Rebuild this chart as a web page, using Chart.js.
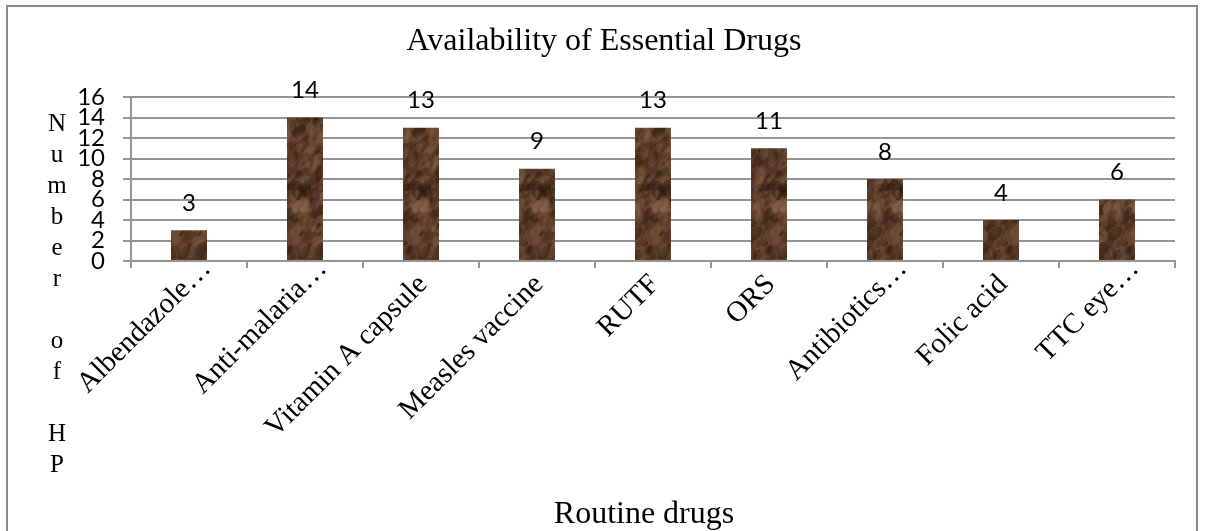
<!DOCTYPE html>
<html>
<head>
<meta charset="utf-8">
<title>Availability of Essential Drugs</title>
<script src="https://cdn.jsdelivr.net/npm/chart.js@4.4.1/dist/chart.umd.min.js"></script>
<style>
  html, body { margin: 0; padding: 0; background: #ffffff; }
  #wrap { position: relative; width: 1207px; height: 531px; }
  canvas { display: block; }
</style>
</head>
<body>
<div id="wrap"><canvas id="chart" width="1207" height="531"></canvas></div>
<script>
// Routine drugs and the number of health posts stocking each one
const drugs = [
  'Albendazole\u2026', 'Anti-malaria\u2026', 'Vitamin A capsule', 'Measles vaccine',
  'RUTF', 'ORS', 'Antibiotics\u2026', 'Folic acid', 'TTC eye\u2026'
];
const healthPosts = [3, 14, 13, 9, 13, 11, 8, 4, 6];
const yTicks = [0, 2, 4, 6, 8, 10, 12, 14, 16];

const chartTitle = 'Availability of Essential Drugs';
const xTitle = 'Routine drugs';
const yTitle = 'Number of HP';

const GRID = '#959595';
const SERIF = '"Liberation Serif", "Times New Roman", serif';
const SANS = 'Lato, "Open Sans", sans-serif';

// Marbled brown fill for the bars; blotches wrap around the tile so it repeats without seams
function marbleFill(ctx) {
  const W = 60, H = 220;
  const c = document.createElement('canvas');
  c.width = W; c.height = H;
  const g = c.getContext('2d');
  g.fillStyle = '#573827';
  g.fillRect(0, 0, W, H);
  let s = 12345;
  const next = () => { s = (s * 16807) % 2147483647; return s / 2147483647; };
  const tones = ['rgba(150,112,82,0.28)', 'rgba(38,20,10,0.38)', 'rgba(122,86,60,0.32)', 'rgba(70,44,28,0.4)'];
  for (let i = 0; i < 520; i++) {
    const x = next() * W, y = next() * H;
    const r = 1.5 + next() * 5.5, a = next() * Math.PI;
    g.fillStyle = tones[Math.floor(next() * tones.length)];
    for (const dx of [-W, 0, W]) {
      for (const dy of [-H, 0, H]) {
        g.beginPath();
        g.ellipse(x + dx, y + dy, r * 0.7, r * 1.3, a * 0.3, 0, Math.PI * 2);
        g.fill();
      }
    }
  }
  return ctx.createPattern(c, 'repeat');
}

// Frame around the figure (open at the bottom edge) and the chart titles
const framePlugin = {
  id: 'frame',
  beforeDraw(chart) {
    const ctx = chart.ctx;
    ctx.save();
    ctx.fillStyle = '#ffffff';
    ctx.fillRect(0, 0, chart.width, chart.height);
    ctx.strokeStyle = '#8a8a8a';
    ctx.lineWidth = 2;
    ctx.beginPath();
    ctx.moveTo(7, chart.height);
    ctx.lineTo(7, 6);
    ctx.lineTo(1197, 6);
    ctx.lineTo(1197, chart.height);
    ctx.stroke();
    ctx.restore();
  },
  afterDraw(chart) {
    const ctx = chart.ctx;
    ctx.save();
    ctx.fillStyle = '#000000';
    ctx.textAlign = 'center';
    ctx.textBaseline = 'middle';
    ctx.font = '32px ' + SERIF;
    ctx.fillText(chartTitle, 604, 42);
    ctx.fillText(xTitle, 644, 515);
    ctx.restore();
  }
};

// Category names, slanted at 45 degrees and anchored at each category tick;
// shortened names (ending in an ellipsis) sit a little further along the slant
const categoryLabelPlugin = {
  id: 'categoryLabels',
  afterDraw(chart) {
    const scale = chart.scales.x;
    const ctx = chart.ctx;
    ctx.save();
    ctx.font = '29px ' + SERIF;
    ctx.fillStyle = '#000000';
    ctx.textAlign = 'right';
    ctx.textBaseline = 'middle';
    drugs.forEach((name, i) => {
      const x = scale.getPixelForTick(i) + 2;
      const y = scale.top + 19;
      const along = name.endsWith('\u2026') ? 22 : 0;
      ctx.save();
      ctx.translate(x, y);
      ctx.rotate(-Math.PI / 4);
      ctx.fillText(name, along, 0);
      ctx.restore();
    });
    ctx.restore();
  }
};

// Y-axis title written as a column of upright letters
const stackedTitlePlugin = {
  id: 'stackedTitle',
  afterDraw(chart) {
    const ctx = chart.ctx;
    ctx.save();
    ctx.font = '25px ' + SERIF;
    ctx.fillStyle = '#000000';
    ctx.textAlign = 'center';
    ctx.textBaseline = 'middle';
    Array.from(yTitle).forEach((ch, i) => {
      if (ch.trim()) ctx.fillText(ch, 57, 124 + i * 31);
    });
    ctx.restore();
  }
};

// Value labels above each bar
const valueLabelPlugin = {
  id: 'valueLabels',
  afterDatasetsDraw(chart) {
    const ctx = chart.ctx;
    const meta = chart.getDatasetMeta(0);
    ctx.save();
    ctx.font = '24px ' + SANS;
    ctx.fillStyle = '#000000';
    ctx.textAlign = 'center';
    ctx.textBaseline = 'middle';
    meta.data.forEach((bar, i) => {
      ctx.fillText(String(healthPosts[i]), bar.x, bar.y - 27);
    });
    ctx.restore();
  }
};

const ctx = document.getElementById('chart').getContext('2d');
new Chart(ctx, {
  type: 'bar',
  data: {
    labels: drugs,
    datasets: [{
      data: healthPosts,
      backgroundColor: marbleFill(ctx),
      borderWidth: 0,
      categoryPercentage: 1,
      barPercentage: 0.31
    }]
  },
  options: {
    responsive: false,
    animation: false,
    layout: { padding: { left: 0, right: 32, top: 97, bottom: 0 } },
    plugins: {
      legend: { display: false },
      tooltip: { enabled: false },
      title: { display: false }
    },
    scales: {
      x: {
        afterFit(scale) { scale.height = 270; },
        grid: {
          display: true,
          offset: true,
          drawOnChartArea: false,
          drawTicks: true,
          tickLength: 7,
          color: GRID,
          lineWidth: 2
        },
        border: { display: true, color: GRID, width: 2 },
        ticks: { display: false, autoSkip: false }
      },
      y: {
        min: 0,
        max: 16,
        afterFit(scale) { scale.width = 131; },
        afterBuildTicks(scale) { scale.ticks = yTicks.map(v => ({ value: v })); },
        grid: {
          color: GRID,
          lineWidth: 2,
          drawTicks: true,
          tickLength: 8
        },
        border: { display: true, color: GRID, width: 2 },
        ticks: {
          autoSkip: false,
          padding: 18,
          color: '#000000',
          font: { family: SANS, size: 24 }
        }
      }
    }
  },
  plugins: [framePlugin, categoryLabelPlugin, stackedTitlePlugin, valueLabelPlugin]
});
</script>
</body>
</html>
